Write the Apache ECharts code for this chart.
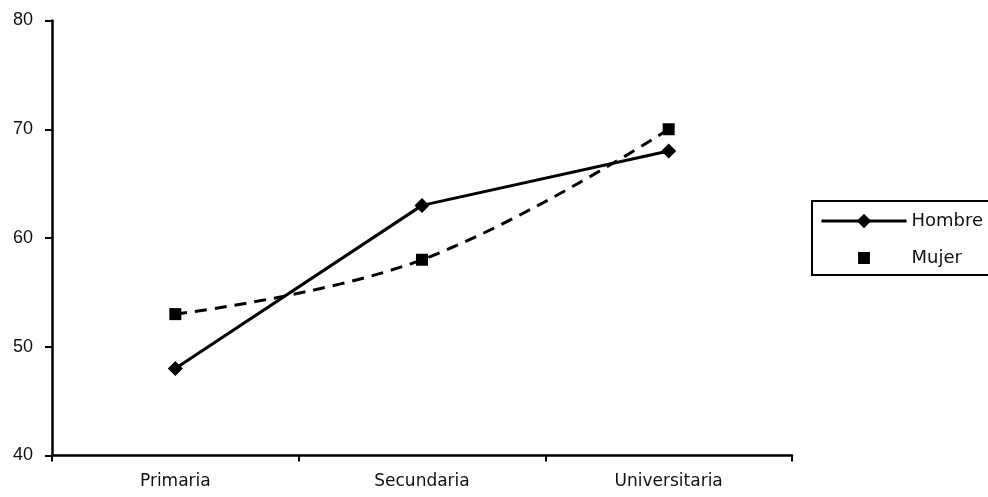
<!DOCTYPE html>
<html>
<head>
<meta charset="utf-8">
<script src="https://cdn.jsdelivr.net/npm/echarts@6/dist/echarts.min.js"></script>
<style>html,body{margin:0;padding:0;background:#fff;}#c{width:988px;height:497px;}</style>
</head>
<body>
<div id="c"></div>
<script>
const categories = ['Primaria', 'Secundaria', 'Universitaria'];
const hombre = [48, 63, 68];
const mujer = [53, 58, 70];
const yTicks = [40, 50, 60, 70, 80];

const font = "'Liberation Sans', Arial, sans-serif";
const wideFont = "'DejaVu Sans', 'Liberation Sans', sans-serif";
const chart = echarts.init(document.getElementById('c'), null, {renderer: 'canvas'});
chart.setOption({
  backgroundColor: '#ffffff',
  animation: false,
  grid: {left: 52, right: 196, top: 20.5, bottom: 41.5},
  xAxis: {
    type: 'category',
    data: categories,
    boundaryGap: true,
    axisLine: {lineStyle: {color: '#000', width: 2.5}},
    axisTick: {show: true, length: 6, lineStyle: {color: '#000', width: 2}},
    axisLabel: {color: '#111', fontSize: 17, fontFamily: wideFont, margin: 18}
  },
  yAxis: {
    type: 'value',
    min: yTicks[0],
    max: yTicks[yTicks.length - 1],
    interval: 10,
    splitLine: {show: false},
    axisLine: {show: true, lineStyle: {color: '#000', width: 2.5}},
    axisTick: {show: true, length: 7, lineStyle: {color: '#000', width: 2}},
    axisLabel: {color: '#111', fontSize: 18, fontFamily: font, margin: 19}
  },
  legend: {
    orient: 'vertical',
    left: 812,
    top: 201,
    padding: [11, 40, 8, 8],
    borderColor: '#000',
    borderWidth: 2,
    itemWidth: 85,
    itemHeight: 18,
    itemGap: 19,
    textStyle: {color: '#111', fontSize: 18, fontFamily: wideFont, lineHeight: 18},
    data: [
      {name: 'Hombre', lineStyle: {width: 3}},
      {name: 'Mujer', icon: 'path://M-2.6,-2.6h0.01M0,0h10v10h-10zM12.6,12.6h0.01', itemStyle: {color: '#000'}}
    ]
  },
  series: [
    {
      name: 'Hombre',
      type: 'line',
      data: hombre,
      symbol: 'diamond',
      symbolSize: 15,
      lineStyle: {color: '#000', width: 3},
      itemStyle: {color: '#000'}
    },
    {
      name: 'Mujer',
      type: 'line',
      data: mujer,
      smooth: 0.4,
      symbol: 'rect',
      symbolSize: 12,
      lineStyle: {color: '#000', width: 3, type: [12, 8]},
      itemStyle: {color: '#000'}
    }
  ]
});
</script>
</body>
</html>
